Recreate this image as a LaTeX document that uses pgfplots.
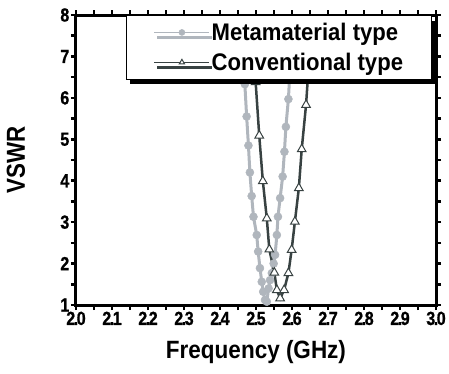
\documentclass[border=0pt]{standalone}
\usepackage{pgfplots}
\pgfplotsset{compat=1.18}
\usepackage{fontspec}
\setmainfont{Liberation Sans}
\newfontfamily\tickf[FakeStretch=0.85, LetterSpace=-8, FakeBold=0.8]{Liberation Sans}
\newfontfamily\labf[FakeStretch=0.9]{Liberation Sans}
\newfontfamily\ylabf[FakeStretch=0.86]{Liberation Sans}
\newfontfamily\legf[FakeStretch=0.92]{Liberation Sans}
\usetikzlibrary{shadows}
\definecolor{metagray}{RGB}{176,182,189}
\definecolor{convdark}{RGB}{56,66,66}
\begin{document}
\begin{tikzpicture}
\useasboundingbox (-76pt,-69pt) rectangle (373pt,305pt);
\begin{axis}[
  at={(0,0)}, anchor=south west,
  scale only axis, width=360pt, height=290pt,
  xmin=2, xmax=3, ymin=1, ymax=8,
  xtick={2.0,2.1,2.2,2.3,2.4,2.5,2.6,2.7,2.8,2.9,3.0},
  ytick={1,2,3,4,5,6,7,8},
  minor x tick num=1, minor y tick num=1,
  tick align=outside,
  major tick length=5pt, minor tick length=5pt,
  every tick/.style={line width=2.5pt, black},
  axis line style={line width=3pt},
  /pgf/number format/assume math mode=true,
  xticklabel style={/pgf/number format/.cd, fixed, fixed zerofill, precision=1},
  tick label style={font=\tickf\bfseries\fontsize{19}{19}\selectfont, inner sep=1.5pt},
  xlabel={Frequency (GHz)}, ylabel={VSWR},
  every axis x label/.style={at={(axis description cs:0.5,0)}, anchor=center, yshift=-47pt, font=\labf\bfseries\fontsize{25}{25}\selectfont},
  every axis y label/.style={at={(axis description cs:0,0.5)}, anchor=center, rotate=90, yshift=60pt, font=\ylabf\bfseries\fontsize{26}{26}\selectfont},
  legend cell align=left,
  legend image code/.code={\draw[#1, line width=1.5pt, mark size=3pt, mark repeat=2, mark phase=2] plot coordinates {(0pt,0pt) (27.5pt,0pt) (55pt,0pt)};},
  legend style={at={(axis description cs:0.989,1)}, anchor=north east,
    draw=black, line width=1pt, fill=white,
    drop shadow={shadow xshift=3pt, shadow yshift=-5pt, fill=black, opacity=1},
    inner xsep=27pt, inner ysep=6pt, row sep=8pt,
    nodes={inner sep=1.5pt},
    font=\legf\bfseries\fontsize{24}{24}\selectfont},
]
\addplot[metagray, line width=3pt, mark=*, mark size=4pt, mark options={fill=metagray, draw=metagray, line width=0.5pt}] coordinates {
(2.455,8.6) (2.460,7.7) (2.464,7.0) (2.469,6.33) (2.474,5.55) (2.479,4.85) (2.483,4.20)
(2.488,3.63) (2.493,3.13) (2.502,2.69) (2.506,2.29) (2.511,1.89) (2.516,1.56)
(2.520,1.32) (2.525,1.12) (2.530,1.08) (2.535,1.40) (2.539,1.60) (2.544,1.77)
(2.549,2.00) (2.553,2.21) (2.558,2.69) (2.561,3.13) (2.567,3.58) (2.574,4.10)
(2.579,4.70) (2.583,5.30) (2.590,5.97) (2.594,6.6) (2.599,7.4) (2.606,8.7)
};
\addlegendentry{Metamaterial type}
\addplot[convdark, line width=2.5pt, mark=triangle*, mark size=5pt, mark options={fill=white, draw=convdark, line width=1pt}] coordinates {
(2.485,8.6) (2.490,7.7) (2.495,7.0) (2.499,6.38) (2.509,5.09) (2.519,3.99) (2.530,3.09)
(2.537,2.34) (2.551,1.78) (2.558,1.36) (2.567,1.16) (2.578,1.36) (2.590,1.77)
(2.599,2.33) (2.608,3.01) (2.619,3.82) (2.627,4.76) (2.639,5.83) (2.645,6.6)
(2.652,7.5) (2.660,8.5)
};
\addlegendentry{Conventional type}
\end{axis}
\end{tikzpicture}
\end{document}
